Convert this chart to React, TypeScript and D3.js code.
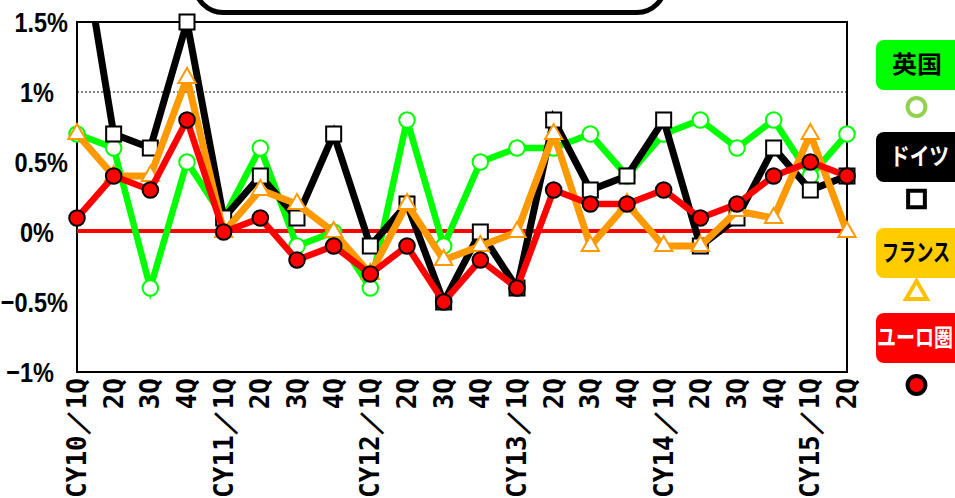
import React from "react";
import * as d3 from "d3";

const categories = [
  "CY10／1Q", "2Q", "3Q", "4Q",
  "CY11／1Q", "2Q", "3Q", "4Q",
  "CY12／1Q", "2Q", "3Q", "4Q",
  "CY13／1Q", "2Q", "3Q", "4Q",
  "CY14／1Q", "2Q", "3Q", "4Q",
  "CY15／1Q", "2Q",
];
const ukValues = [0.7, 0.6, -0.4, 0.5, 0.1, 0.6, -0.1, 0.0, -0.4, 0.8, -0.1, 0.5, 0.6, 0.6, 0.7, 0.4, 0.7, 0.8, 0.6, 0.8, 0.4, 0.7];
const germanyValues = [2.3, 0.7, 0.6, 1.5, 0.1, 0.4, 0.1, 0.7, -0.1, 0.2, -0.5, 0.0, -0.4, 0.8, 0.3, 0.4, 0.8, -0.1, 0.1, 0.6, 0.3, 0.4];
const franceValues = [0.7, 0.4, 0.4, 1.1, 0.0, 0.3, 0.2, 0.0, -0.3, 0.2, -0.2, -0.1, 0.0, 0.7, -0.1, 0.2, -0.1, -0.1, 0.15, 0.1, 0.7, 0.0];
const euroValues = [0.1, 0.4, 0.3, 0.8, 0.0, 0.1, -0.2, -0.1, -0.3, -0.1, -0.5, -0.2, -0.4, 0.3, 0.2, 0.2, 0.3, 0.1, 0.2, 0.4, 0.5, 0.4];
const yTicks = [1.5, 1, 0.5, 0, -0.5, -1];
const yTickLabels = ["1.5%", "1%", "0.5%", "0%", "−0.5%", "−1%"];
const seriesNames = ["英国", "ドイツ", "フランス", "ユーロ圏"];

const W = 955;
const H = 498;
const PL = 77, PR = 847, PT = 22, PB = 372;

type Marker = "circle" | "square" | "triangle";
const styles: { color: string; width: number; marker: Marker; mFill: string; mStroke: string; mSize: number;
  boxFill: string; textFill: string; legStroke: string; legFill: string; legSize: number }[] = [
  { color: "#00FF00", width: 6.5, marker: "circle", mFill: "#FFFFFF", mStroke: "#00FF00", mSize: 190,
    boxFill: "#00FF00", textFill: "#000000", legStroke: "#92D050", legFill: "#FFFFFF", legSize: 250 },
  { color: "#000000", width: 7, marker: "square", mFill: "#FFFFFF", mStroke: "#000000", mSize: 225,
    boxFill: "#000000", textFill: "#FFFFFF", legStroke: "#000000", legFill: "#FFFFFF", legSize: 280 },
  { color: "#FF9900", width: 7, marker: "triangle", mFill: "#FFFFFF", mStroke: "#FF9900", mSize: 130,
    boxFill: "#FFCC00", textFill: "#000000", legStroke: "#FFC000", legFill: "#FFFFFF", legSize: 190 },
  { color: "#FF0000", width: 6.5, marker: "circle", mFill: "#FF0000", mStroke: "#000000", mSize: 190,
    boxFill: "#FF0000", textFill: "#FFFFFF", legStroke: "#000000", legFill: "#FF0000", legSize: 250 },
];
const legendLayout = [
  { boxTop: 40, markY: 107, textX: 892, textLen: 50 },
  { boxTop: 132, markY: 199, textX: 890, textLen: 59 },
  { boxTop: 228, markY: 293, textX: 882, textLen: 68 },
  { boxTop: 313, markY: 385, textX: 877, textLen: 76 },
];

const symbolType = (m: Marker) =>
  m === "circle" ? d3.symbolCircle : m === "square" ? d3.symbolSquare : d3.symbolTriangle;

export default function App() {
  const idx = d3.range(categories.length);
  const x = d3.scalePoint<number>().domain(idx).range([PL, PR]);
  const y = d3.scaleLinear().domain([-1, 1.5]).range([PB, PT]);
  const line = d3.line<number>().x((_, i) => x(i)!).y((d) => y(d));
  const data = [ukValues, germanyValues, franceValues, euroValues];

  return (
    <svg width={W} height={H} style={{ position: "absolute", left: 0, top: 0, background: "#fff" }}>
      <defs>
        <clipPath id="plotclip">
          <rect x={PL} y={PT} width={PR - PL} height={PB - PT} />
        </clipPath>
      </defs>
      {/* top title box (cut off) */}
      <rect x={195} y={-45} width={470} height={57.5} rx={28} fill="#fff" stroke="#000" strokeWidth={5} />
      <text x={923} y={-2} textAnchor="middle" fontSize={24} fontWeight="bold"
        fontFamily="'Noto Sans CJK JP', sans-serif" fill="#000">上</text>

      {/* plot frame */}
      <rect x={PL} y={PT} width={PR - PL} height={PB - PT} fill="none" stroke="#000" strokeWidth={2} />
      <line x1={PL} x2={PR} y1={y(1)} y2={y(1)} stroke="#000" strokeWidth={1} strokeDasharray="2,2" />
      <line x1={PL} x2={PR} y1={y(0)} y2={y(0)} stroke="#000" strokeWidth={1.5} />
      <line x1={PL} x2={PR} y1={y(0) - 1} y2={y(0) - 1} stroke="#FF0000" strokeWidth={4} />

      {/* y labels */}
      {yTicks.map((t, i) => (
        <text key={i} transform={`translate(${yTickLabels[i].includes(".") ? 68 : 54},${y(t)}) scale(0.84,1)`}
          textAnchor="end" dy="0.36em" fontSize={28} fontWeight="bold"
          fontFamily="'Liberation Sans', Arial, sans-serif" fill="#000">{yTickLabels[i]}</text>
      ))}

      {/* x labels */}
      {categories.map((c, i) => (
        <text key={i} transform={`translate(${x(i)},378) rotate(-90)`} textAnchor="end" dominantBaseline="central"
          fontSize={26} fontWeight="bold" fontFamily="'DejaVu Sans Mono', monospace" fill="#000">{c}</text>
      ))}

      {/* series */}
      {data.map((vals, s) => {
        const st = styles[s];
        const sym = d3.symbol().type(symbolType(st.marker)).size(st.mSize)();
        return (
          <g key={s}>
            <path d={line(vals) || ""} fill="none" stroke={st.color} strokeWidth={st.width}
              strokeLinejoin="miter" clipPath="url(#plotclip)" />
            {vals.map((v, i) =>
              v <= 1.5 && v >= -1 ? (
                <path key={i} d={sym || ""} transform={`translate(${x(i)},${y(v)})`}
                  fill={st.mFill} stroke={st.mStroke} strokeWidth={2} />
              ) : null
            )}
          </g>
        );
      })}

      {/* legend */}
      {seriesNames.map((n, s) => {
        const st = styles[s];
        const L = legendLayout[s];
        const sym = d3.symbol().type(symbolType(st.marker)).size(st.legSize)();
        return (
          <g key={n}>
            <rect x={876} y={L.boxTop} width={95} height={50} rx={8} fill={st.boxFill} />
            <text x={L.textX} y={L.boxTop + 24} dy="0.36em" fontSize={24} fontWeight="bold"
              textLength={L.textLen} lengthAdjust="spacingAndGlyphs"
              fontFamily="'Noto Sans CJK JP', sans-serif" fill={st.textFill}>{n}</text>
            <path d={sym || ""} transform={`translate(916.5,${L.markY})`} fill={st.legFill}
              stroke={st.legStroke} strokeWidth={4} />
          </g>
        );
      })}
    </svg>
  );
}
